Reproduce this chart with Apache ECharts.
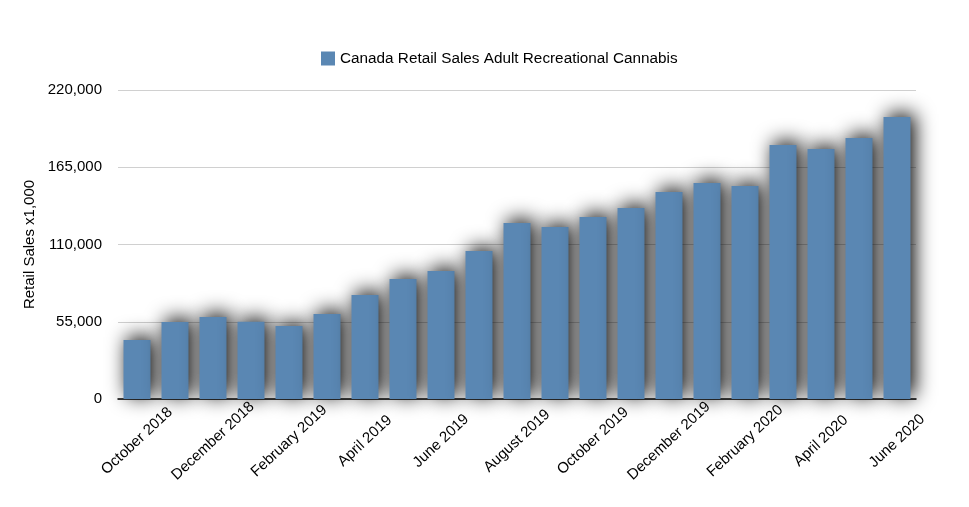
<!DOCTYPE html>
<html><head><meta charset="utf-8">
<script src="https://cdn.jsdelivr.net/npm/echarts@6/dist/echarts.min.js"></script>
<style>html,body{margin:0;padding:0;background:#fff}#c{width:969px;height:507px}</style>
</head><body><div id="c"></div>
<script>
const categories = ["October 2018","November 2018","December 2018","January 2019","February 2019","March 2019","April 2019","May 2019","June 2019","July 2019","August 2019","September 2019","October 2019","November 2019","December 2019","January 2020","February 2020","March 2020","April 2020","May 2020","June 2020"];
const salesValues = [42000,54800,58400,55000,52000,60500,74000,85400,91100,105400,125300,122500,129600,136000,147400,153800,151700,180800,178000,185800,200800];
const seriesName = "Canada Retail Sales Adult Recreational Cannabis";
const yTicks = {min:0, max:220000, interval:55000};
const FONT = '"Liberation Sans", Arial, Helvetica, sans-serif';
const chart = echarts.init(document.getElementById('c'));
chart.setOption({
  animation:false,
  textStyle:{fontFamily:FONT},
  legend:{top:46, left:316, itemWidth:14, itemHeight:14, itemGap:9,
    icon:'rect', textStyle:{fontSize:15.3, color:'#000', fontFamily:FONT}},
  grid:{left:118, right:53, top:90, bottom:108},
  xAxis:{type:'category', data:categories,
    axisLine:{lineStyle:{color:'#000', width:1.5}}, axisTick:{show:false},
    axisLabel:{interval:1, rotate:43, align:'center', verticalAlign:'middle', margin:42,
      fontSize:15, color:'#000', fontFamily:FONT}},
  yAxis:{type:'value', min:yTicks.min, max:yTicks.max, interval:yTicks.interval,
    name:'Retail Sales x1,000', nameLocation:'middle', nameGap:80, nameRotate:90,
    nameTextStyle:{fontSize:15, color:'#000', fontFamily:FONT},
    axisLine:{show:false}, axisTick:{show:false},
    axisLabel:{margin:16, fontSize:15, color:'#000', fontFamily:FONT,
      formatter:v=>v.toLocaleString('en-US')},
    splitLine:{lineStyle:{color:'#d0d0d0', width:1}}},
  series:[{name:seriesName, type:'bar', data:salesValues, barCategoryGap:'29%',
    itemStyle:{color:'#5a87b3', shadowColor:'rgba(0,0,0,1)', shadowBlur:20, shadowOffsetX:4, shadowOffsetY:-3}}]
});
</script></body></html>
